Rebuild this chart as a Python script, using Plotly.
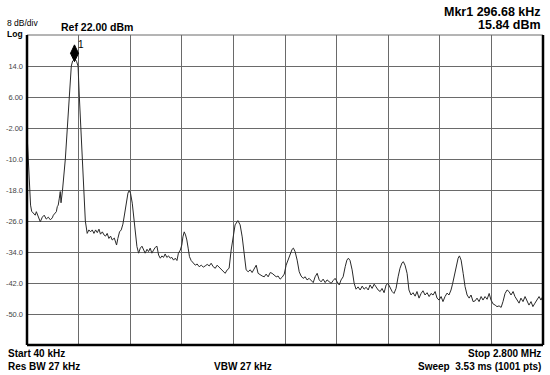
import plotly.graph_objects as go

# ---- data ----
freq_mhz = [
    0.040, 0.047, 0.054, 0.059, 0.065, 0.074, 0.084, 0.090, 0.100, 0.111,
    0.122, 0.132, 0.143, 0.154, 0.165, 0.175, 0.181, 0.191, 0.197, 0.202,
    0.207, 0.213, 0.218, 0.222, 0.230, 0.245, 0.255, 0.268, 0.277, 0.284,
    0.2967, 0.305, 0.313, 0.320, 0.327, 0.336, 0.343, 0.352, 0.362, 0.371,
    0.380, 0.389, 0.398, 0.407, 0.416, 0.425, 0.433, 0.443, 0.452, 0.460,
    0.469, 0.478, 0.487, 0.496, 0.507, 0.519, 0.526, 0.535, 0.544, 0.553,
    0.562, 0.571, 0.580, 0.587, 0.594, 0.603, 0.610, 0.619, 0.628, 0.637,
    0.646, 0.655, 0.663, 0.672, 0.682, 0.690, 0.699, 0.708, 0.717, 0.726,
    0.735, 0.744, 0.753, 0.762, 0.770, 0.779, 0.788, 0.797, 0.806, 0.815,
    0.824, 0.833, 0.842, 0.850, 0.860, 0.868, 0.874, 0.881, 0.888, 0.895,
    0.902, 0.909, 0.918, 0.929, 0.940, 0.950, 0.961, 0.972, 0.983, 0.993,
    1.004, 1.015, 1.025, 1.036, 1.047, 1.057, 1.068, 1.079, 1.089, 1.100,
    1.111, 1.121, 1.132, 1.143, 1.153, 1.168, 1.180, 1.191, 1.202, 1.212,
    1.223, 1.234, 1.244, 1.255, 1.266, 1.276, 1.287, 1.298, 1.309, 1.319,
    1.330, 1.341, 1.351, 1.362, 1.373, 1.383, 1.394, 1.405, 1.416, 1.426,
    1.437, 1.448, 1.458, 1.465, 1.474, 1.485, 1.496, 1.506, 1.517, 1.528,
    1.538, 1.549, 1.560, 1.571, 1.581, 1.592, 1.603, 1.613, 1.624, 1.635,
    1.645, 1.656, 1.667, 1.677, 1.688, 1.699, 1.710, 1.720, 1.731, 1.742,
    1.751, 1.759, 1.768, 1.779, 1.790, 1.800, 1.811, 1.822, 1.833, 1.843,
    1.854, 1.865, 1.875, 1.886, 1.897, 1.907, 1.918, 1.929, 1.939, 1.950,
    1.961, 1.971, 1.982, 1.993, 2.003, 2.014, 2.025, 2.035, 2.046, 2.053,
    2.062, 2.073, 2.083, 2.094, 2.105, 2.116, 2.126, 2.137, 2.148, 2.158,
    2.169, 2.180, 2.191, 2.201, 2.212, 2.223, 2.233, 2.244, 2.255, 2.265,
    2.276, 2.287, 2.297, 2.308, 2.316, 2.324, 2.335, 2.346, 2.353, 2.362,
    2.373, 2.383, 2.394, 2.405, 2.415, 2.426, 2.437, 2.447, 2.458, 2.469,
    2.479, 2.490, 2.501, 2.512, 2.522, 2.533, 2.544, 2.554, 2.565, 2.576,
    2.586, 2.597, 2.608, 2.618, 2.629, 2.640, 2.650, 2.661, 2.672, 2.682,
    2.693, 2.704, 2.714, 2.725, 2.736, 2.746, 2.757, 2.768, 2.779, 2.789,
    2.800,
]
level_dbm = [
    -3.3, -11.5, -19.3, -21.9, -23.5, -23.9, -24.5, -23.6, -24.9, -26.2,
    -25.0, -24.5, -25.5, -25.0, -25.7, -25.2, -24.5, -23.9, -23.6, -22.3,
    -21.9, -20.1, -18.4, -21.3, -18.0, -10.0, -2.0, 6.0, 14.0, 15.3,
    15.84, 15.2, 14.0, 6.0, -2.0, -10.0, -18.0, -26.0, -29.2, -28.3,
    -28.8, -28.3, -29.2, -28.3, -29.0, -28.1, -29.4, -28.8, -29.6, -29.9,
    -29.2, -30.5, -29.9, -30.9, -30.4, -32.2, -30.5, -28.8, -28.3, -26.8,
    -24.2, -20.8, -18.8, -18.1, -18.9, -21.4, -24.9, -29.2, -32.6, -34.3,
    -33.0, -32.5, -33.5, -34.3, -33.3, -33.9, -33.0, -34.3, -33.5, -32.8,
    -32.5, -34.8, -35.6, -35.0, -35.4, -34.5, -35.4, -35.0, -35.6, -35.4,
    -36.1, -35.6, -36.2, -34.3, -33.5, -32.2, -30.1, -28.8, -29.6, -30.9,
    -33.0, -35.2, -36.2, -36.9, -37.4, -37.1, -37.8, -37.4, -37.9, -37.6,
    -37.2, -37.6, -36.9, -37.8, -38.2, -37.4, -37.9, -38.6, -39.1, -39.5,
    -38.6, -38.2, -33.5, -30.1, -27.0, -25.9, -27.0, -30.1, -34.3, -38.6,
    -39.1, -38.6, -39.3, -38.2, -37.4, -39.5, -39.9, -40.2, -40.4, -39.7,
    -40.4, -39.3, -39.5, -39.9, -40.4, -40.2, -41.0, -40.5, -39.7, -37.4,
    -36.1, -34.3, -33.3, -33.0, -33.9, -36.1, -39.1, -40.2, -40.8, -40.4,
    -41.2, -40.8, -41.4, -41.9, -40.4, -39.5, -41.2, -41.7, -41.0, -41.9,
    -41.2, -41.7, -42.1, -41.4, -40.8, -41.7, -42.5, -41.2, -40.4, -37.8,
    -36.1, -35.6, -36.2, -38.6, -42.1, -43.6, -43.0, -43.8, -42.8, -43.6,
    -43.1, -43.8, -42.5, -43.4, -42.3, -43.0, -43.8, -44.2, -43.4, -44.5,
    -42.5, -42.1, -43.4, -44.2, -44.7, -43.4, -40.4, -38.2, -36.8, -36.5,
    -37.4, -39.5, -43.8, -45.1, -44.5, -45.4, -44.2, -45.9, -44.7, -44.0,
    -45.1, -44.5, -45.5, -44.7, -45.1, -44.2, -45.9, -46.4, -45.5, -46.8,
    -45.5, -44.6, -45.1, -43.8, -42.3, -40.4, -37.8, -35.6, -35.0, -36.1,
    -39.5, -42.9, -45.1, -45.9, -45.1, -46.8, -46.6, -45.9, -46.8, -45.5,
    -46.4, -45.5, -46.2, -44.7, -46.4, -47.4, -47.7, -48.1, -47.9, -48.3,
    -46.8, -44.7, -43.8, -44.2, -45.1, -44.2, -45.5, -46.4, -47.2, -45.9,
    -46.8, -45.5, -46.4, -47.7, -46.8, -48.1, -47.2, -46.4, -45.5, -46.4,
    -45.4,
]

marker_freq = [0.29668]
marker_level = [15.84]

y_tick_vals = [-58, -50, -42, -34, -26, -18, -10, -2, 6, 14, 22]
y_tick_text = ["", "-50.0", "-42.0", "-34.0", "-26.0", "-18.0", "-10.0",
               "-2.00", "6.00", "14.0", ""]
x_start, x_stop, x_div = 0.040, 2.800, 0.276
y_bottom, y_top = -58, 22

FONT = "Liberation Sans, Arial, sans-serif"

fig = go.Figure()
fig.add_trace(go.Scatter(
    x=freq_mhz, y=level_dbm, mode="lines",
    line=dict(color="#2a2a2a", width=1), hoverinfo="skip", showlegend=False,
))

fig.update_layout(
    width=550, height=375,
    margin=dict(l=27, r=7, t=35, b=30),
    paper_bgcolor="white", plot_bgcolor="white",
    showlegend=False,
    xaxis=dict(range=[x_start, x_stop], tick0=x_start, dtick=x_div,
               showgrid=True, gridcolor="#6a6a6a", gridwidth=1,
               showticklabels=False, ticks="", zeroline=False, showline=False),
    yaxis=dict(range=[y_bottom, y_top], tickvals=y_tick_vals, ticktext=y_tick_text,
               showgrid=True, gridcolor="#6a6a6a", gridwidth=1,
               ticks="", zeroline=False, showline=False,
               tickfont=dict(family=FONT, size=7.5, color="#444444"),
               ticklabelstandoff=3),
)

# frame
fig.add_shape(type="line", xref="paper", yref="paper", x0=0, x1=1, y0=1, y1=1,
              line=dict(color="#6a6a6a", width=1))
for x0, y0, x1, y1 in [(0, 0, 0, 1), (0, 0, 1, 0), (1, 0, 1, 1)]:
    fig.add_shape(type="line", xref="paper", yref="paper", x0=x0, x1=x1, y0=y0, y1=y1,
                  line=dict(color="black", width=2.5))

# marker diamond anchored at marker point
fig.add_shape(type="path", xref="x", yref="y", xsizemode="pixel", ysizemode="pixel",
              xanchor=marker_freq[0], yanchor=marker_level[0],
              path="M -0.5 -2.8 L 3.5 5.6 L -0.5 14 L -4.5 5.6 Z",
              fillcolor="black", line=dict(color="black", width=1))
fig.add_annotation(x=marker_freq[0], y=marker_level[0], xref="x", yref="y",
                   text="1", showarrow=False, xshift=6, yshift=14,
                   font=dict(family=FONT, size=10, color="black"))

def txt(text, x, y, xanchor, size, bold=True):
    fig.add_annotation(x=x, y=y, xref="paper", yref="paper", text=text,
                       showarrow=False, xanchor=xanchor, yanchor="middle",
                       font=dict(family=FONT, size=size, color="black",
                                 weight="bold" if bold else "normal"))

txt("Mkr1 296.68 kHz", 1.0, 1.0726, "right", 12.5)
txt("15.84 dBm", 1.0, 1.0323, "right", 12.5)
txt("Ref 22.00 dBm", 0.062, 1.0258, "left", 10.5)
txt("8 dB/div", -0.0426, 1.0400, "left", 8.5, bold=False)
txt("Log", -0.0426, 1.0020, "left", 8.5, bold=True)
txt("Start 40 kHz", -0.0401, -0.0274, "left", 10)
txt("Res BW 27 kHz", -0.0401, -0.0694, "left", 10)
txt("VBW 27 kHz", 0.4186, -0.0694, "center", 10)
txt("Stop 2.800 MHz", 1.0, -0.0274, "right", 10)
txt("Sweep\u00a0\u00a03.53 ms (1001 pts)", 1.0, -0.0694, "right", 10)

fig.write_html("out.html", config={"displayModeBar": False},
               post_script="document.body.style.margin='0';document.body.style.padding='0';")
